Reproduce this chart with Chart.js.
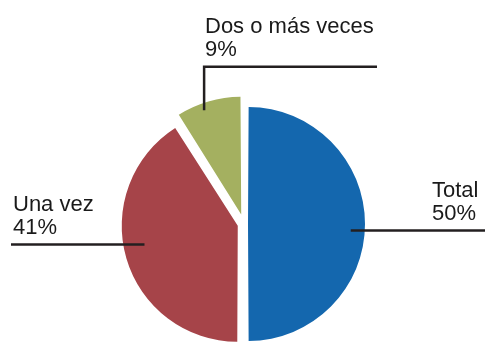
<!DOCTYPE html>
<html lang="es">
<head>
<meta charset="utf-8">
<script src="https://cdn.jsdelivr.net/npm/chart.js@4"></script>
<style>
  html, body { margin: 0; padding: 0; background: #fff; }
</style>
</head>
<body>
<canvas id="pieChart" width="485" height="342"></canvas>
<script>
const categories = ["Total", "Una vez", "Dos o más veces"];
const shares = [50, 41, 9];
const sliceColors = ["#1467ae", "#a64449", "#a4b060"];
const sliceOffsets = [16, 26, 40];

// leader line for each slice: where it starts inside the slice and where it runs
const leaders = [
  { t: 0.52, frac: 0.88, endX: "right", textX: 432 },
  { t: 0.533, frac: 0.82, endX: 11, textX: 13 },
  { t: 0.395, frac: 0.94, elbowY: 66.7, endX: 377, textX: 205 },
];

const leaderPlugin = {
  id: "leaders",
  afterDatasetsDraw(chart) {
    const ctx = chart.ctx;
    const arcs = chart.getDatasetMeta(0).data;
    ctx.save();
    ctx.strokeStyle = "#231f20";
    ctx.lineWidth = 2.5;
    ctx.fillStyle = "#1a1a1a";
    ctx.font = "22px 'Liberation Sans', Arial, sans-serif";
    ctx.textAlign = "left";
    ctx.textBaseline = "alphabetic";
    arcs.forEach(function (arc, i) {
      const cfg = leaders[i];
      const p = arc.getProps(["x", "y", "startAngle", "endAngle", "outerRadius"], true);
      // the arc element shifts by offset/4 along its middle angle
      const shift = (arc.options.offset || 0) / 4;
      const mid = (p.startAngle + p.endAngle) / 2;
      const fix = 1 - Math.sin(Math.min(Math.PI, p.endAngle - p.startAngle));
      const cx = p.x + Math.cos(mid) * shift;
      const cy = p.y + Math.sin(mid) * shift;
      const r = p.outerRadius + shift * fix;
      const a = p.startAngle + cfg.t * (p.endAngle - p.startAngle);
      const ax = cx + Math.cos(a) * r * cfg.frac;
      const ay = cy + Math.sin(a) * r * cfg.frac;
      const endX = cfg.endX === "right" ? chart.width : cfg.endX;

      ctx.beginPath();
      ctx.moveTo(ax, ay);
      let lineY = ay;
      if (cfg.elbowY !== undefined) {
        lineY = cfg.elbowY;
        ctx.lineTo(ax, lineY);
      }
      ctx.lineTo(endX, lineY);
      ctx.stroke();

      const lines = [categories[i], shares[i] + "%"];
      const base = lineY - 10.5;
      ctx.fillText(lines[0], cfg.textX, base - 23);
      ctx.fillText(lines[1], cfg.textX, base);
    });
    ctx.restore();
  },
};

const ctx = document.getElementById("pieChart").getContext("2d");
new Chart(ctx, {
  type: "pie",
  data: {
    labels: categories,
    datasets: [
      {
        data: shares,
        backgroundColor: sliceColors,
        borderWidth: 0,
        offset: sliceOffsets,
        hoverOffset: 0,
        clip: false,
      },
    ],
  },
  options: {
    responsive: false,
    animation: false,
    radius: 113,
    layout: {
      padding: { left: 3, right: 0, top: 106, bottom: 0 },
    },
    plugins: {
      legend: { display: false },
      tooltip: { enabled: false },
    },
  },
  plugins: [leaderPlugin],
});
</script>
</body>
</html>
